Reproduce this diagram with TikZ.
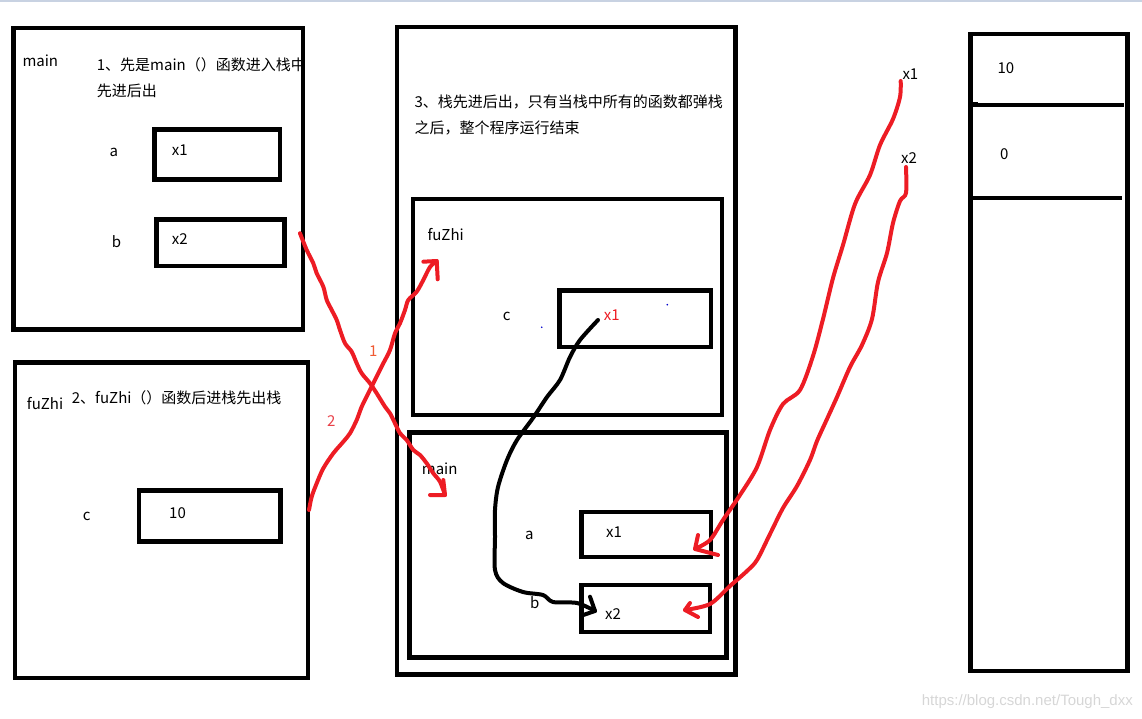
\documentclass[tikz,border=0pt]{standalone}
\usepackage{fontspec}
\setmainfont{Noto Sans CJK SC}
\newfontfamily\wmfont{Liberation Sans}
\definecolor{penred}{RGB}{237,28,36}
\definecolor{onecol}{RGB}{240,90,50}
\definecolor{twocol}{RGB}{232,64,72}
\definecolor{topgray}{RGB}{200,210,226}
\definecolor{wmgray}{RGB}{214,214,214}
\begin{document}
\begin{tikzpicture}[x=1pt,y=-1pt,
  frame/.style={draw=black, line width=4.6pt, inner sep=0pt, outer sep=0pt},
  inbox/.style={draw=black, line width=4.4pt, inner sep=0pt, outer sep=0pt},
  txt/.style={anchor=base west, inner sep=0pt, font=\fontsize{15}{18}\selectfont, text=black},
  redtxt/.style={txt, text=penred},
  redpen/.style={draw=penred, line width=4pt, line cap=round, line join=round},
  blackpen/.style={draw=black, line width=4pt, line cap=round, line join=round},
  divider/.style={draw=black, line width=4pt}
]
\useasboundingbox (0,0) rectangle (1142,719);
\draw[topgray, line width=1.6pt] (0,0.8) -- (1142,0.8);

% ---------- texts (drawn first, frames overlap them) ----------
\node[txt] (lblmainL) at (22.3,67) {main};
\node[txt] (note1a) at (96.7,70.8) {1、先是main（）函数进入栈中};
\node[txt] (note1b) at (96.7,96.2) {先进后出};
\node[txt] (lblaL) at (109.3,156.5) {a};
\node[txt] (valaL) at (171.7,156) {x1};
\node[txt] (lblbL) at (111.7,247.5) {b};
\node[txt] (valbL) at (171.7,244) {x2};

\node[txt] (lblfuL) at (26.7,409) {fuZhi};
\node[txt] (note2) at (71.7,403.5) {2、fuZhi（）函数后进栈先出栈};
\node[txt] (lblcL) at (82.7,520.5) {c};
\node[txt] (valcL) at (169,518.3) {10};

\node[txt] (note3a) at (414.3,107.7) {3、栈先进后出，只有当栈中所有的函数都弹栈};
\node[txt] (note3b) at (414.3,133.3) {之后，整个程序运行结束};
\node[txt] (lblfuM) at (427.3,240.7) {fuZhi};
\node[txt] (lblcM) at (502.7,320) {c};
\node[redtxt] (valcM) at (603.7,320.7) {x1};
\node[txt] (lblmainM) at (421.7,474) {main};
\node[txt] (lblaM) at (525,539) {a};
\node[txt] (valaM) at (606,537.3) {x1};
\node[txt] (lblbM) at (530,608.3) {b};
\node[txt] (valbM) at (605,619) {x2};

\node[txt] (heapx1) at (902.3,80) {x1};
\node[txt] (heapx2) at (901,163.3) {x2};
\node[txt] (heap10) at (997.3,74) {10};
\node[txt] (heap0) at (1000,160) {0};

\node[txt, text=onecol] (num1) at (369,356.7) {1};
\node[txt, text=twocol] (num2) at (327,426) {2};

\node[anchor=base east, inner sep=0pt, font=\wmfont\fontsize{15}{18}\selectfont, text=wmgray] (wm) at (1133,705) {https://blog.csdn.net/Tough\_dxx};

% ---------- frames ----------
\node[frame, minimum width=289.5pt, minimum height=301.5pt] (mainL) at (158.25,178.75) {};
\node[inbox, minimum width=125.9pt, minimum height=50.2pt] (aL) at (217.25,154.6) {};
\node[inbox, minimum width=128pt, minimum height=46.2pt] (bL) at (220.3,242.6) {};

\node[frame, minimum width=293pt, minimum height=315.5pt] (fuL) at (161.5,520.25) {};
\node[inbox, minimum width=141.6pt, minimum height=51pt] (cL) at (209.5,515.8) {};

\node[frame, minimum width=338.5pt, minimum height=647.5pt] (stackM) at (566.25,350.75) {};
\node[inbox, minimum width=309pt, minimum height=216pt] (fuM) at (567.5,307) {};
\node[inbox, minimum width=151.5pt, minimum height=56.5pt] (cM) at (635.25,318.75) {};
\node[inbox, minimum width=317pt, minimum height=225pt] (mainM) at (568,545) {};
\node[inbox, minimum width=129.5pt, minimum height=45pt] (aM) at (646.25,534.5) {};
\node[inbox, minimum width=128.5pt, minimum height=47pt] (bM) at (645.75,608.5) {};

\node[frame, minimum width=157pt, minimum height=637pt] (heap) at (1049,352.5) {};
\coordinate (d1a) at (970.5,105.5);
\coordinate (d1b) at (1123.5,105.5);
\coordinate (d2a) at (970.5,198);
\coordinate (d2b) at (1121.5,198);
\draw[divider] (d1a) -- (d1b);
\draw[divider] (d2a) -- (d2b);
\fill[black] (971,102.3) rectangle (977.5,106);

% tiny blue specks
\fill[blue!80!black] (541.7,327.3) circle (0.9pt);
\fill[blue!80!black] (667.3,304.7) circle (0.9pt);

% ---------- red connector: c(10) -> fuZhi frame ----------
\coordinate (r1s) at (309,510);
\coordinate (r1e) at (436.7,261);
\draw[redpen] plot[smooth] coordinates {(r1s) (311.7,496.7) (316.7,483.3) (323.3,468.3) (333.3,453.3) (343.3,441.7) (350,433.3) (356.7,420) (361.7,406.7) (368.3,393.3) (378.3,373.3) (383.3,363.3) (390,350) (395,333.3) (400,323.3) (405,310) (408.3,300) (416.7,291.7) (423.3,280) (430,267) (r1e)};
\draw[redpen] (423.3,261.7) -- (r1e) -- (437.7,279.3);

% ---------- red connector: b(x2) -> main frame ----------
\coordinate (r2s) at (300,233.3);
\coordinate (r2e) at (445,495);
\draw[redpen] plot[smooth] coordinates {(r2s) (306.7,250) (313.3,263.3) (316.7,273.3) (323.3,286.7) (326.7,300) (331.7,310) (336.7,320) (340,330) (345,343.3) (351.7,351.7) (356.7,363.3) (361.7,373.3) (370,383.3) (376.7,393.3) (385,406.7) (390,413.3) (395,423.3) (400,433.3) (406.7,440) (413.3,450) (420,455) (426.7,463.3) (433.3,473.3) (440,481.7) (r2e)};
\draw[redpen] (443.3,480) -- (r2e) -- (430,495);

% ---------- red connector: heap x1 -> main a ----------
\coordinate (r3s) at (900.7,81);
\coordinate (r3e) at (695,549);
\draw[redpen] plot[smooth] coordinates {(r3s) (900,97) (893,119) (880,145) (870,175) (855,204) (843,245) (833,278) (823,319) (813,356) (800,390) (783,404) (770,430) (757,467) (740,495) (723,520) (710,540) (r3e)};
\draw[redpen] (698,535) -- (r3e) -- (718,555);

% ---------- red connector: heap x2 -> main b ----------
\coordinate (r4s) at (906,167);
\coordinate (r4e) at (685,610);
\draw[redpen] plot[smooth] coordinates {(r4s) (906,193) (900,201) (893,223) (887,253) (878,282) (872,319) (862,345) (850,367) (837,397) (827,419) (817,441) (810,460) (797,486) (783,508) (770,534) (757,560) (747,571) (730,586) (710,604) (r4e)};
\draw[redpen] (690,603) -- (r4e) -- (698,617);

% ---------- black connector: c(x1) -> main b(x2) ----------
\coordinate (ks) at (598,320);
\coordinate (ke) at (595,611);
\draw[blackpen] plot[smooth] coordinates {(ks) (580,340) (570,357) (560,380) (547,397) (533,418) (517,440) (507,460) (498,487) (495,510) (495,537) (495,570) (503,583) (523,592) (543,595) (553,602) (577,603) (ke)};
\draw[blackpen] (590,596.7) -- (ke) -- (583.3,615);
\end{tikzpicture}
\end{document}
